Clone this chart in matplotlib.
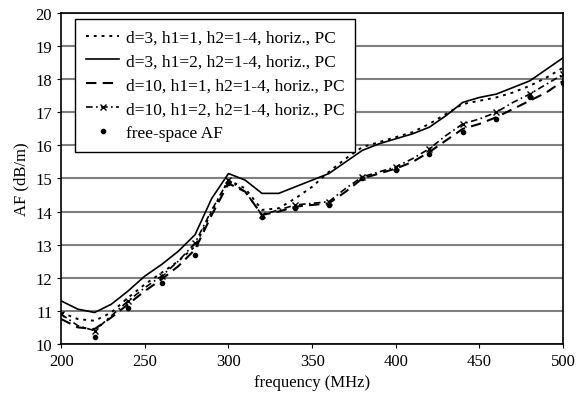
import matplotlib
matplotlib.use('Agg')
from matplotlib import pyplot as plt

plt.rcParams['font.family'] = ['Liberation Serif', 'DejaVu Serif']

# frecuencias de las curvas medidas (MHz)
freq = [200, 210, 220, 230, 240, 250, 260, 270, 280, 290, 300, 310, 320, 330, 340, 350,
        360, 370, 380, 390, 400, 410, 420, 430, 440, 450, 460, 470, 480, 490, 500]

# d=3, h1=1
af_d3_h1 = [10.95, 10.75, 10.7, 10.95, 11.4, 11.8, 12.15, 12.5, 12.95, 14.0, 14.95, 14.7,
            14.05, 14.1, 14.4, 14.75, 15.2, 15.6, 15.95, 16.1, 16.25, 16.4, 16.65, 16.95,
            17.25, 17.35, 17.45, 17.6, 17.8, 18.05, 18.35]
# d=3, h1=2
af_d3_h2 = [11.3, 11.05, 10.95, 11.2, 11.6, 12.05, 12.4, 12.8, 13.3, 14.4, 15.15, 14.95,
            14.55, 14.55, 14.75, 14.95, 15.15, 15.5, 15.85, 16.05, 16.2, 16.35, 16.55, 16.9,
            17.3, 17.45, 17.55, 17.75, 17.95, 18.3, 18.65]
# d=10, h1=1
af_d10_h1 = [10.75, 10.5, 10.45, 10.8, 11.2, 11.6, 11.95, 12.35, 12.85, 13.9, 14.85, 14.6,
             13.9, 14.0, 14.15, 14.2, 14.25, 14.6, 15.0, 15.15, 15.3, 15.5, 15.8, 16.15,
             16.5, 16.65, 16.85, 17.1, 17.35, 17.6, 17.95]
# d=10, h1=2
af_d10_h2 = [10.9, 10.55, 10.4, 10.85, 11.3, 11.7, 12.05, 12.5, 13.05, 14.05, 14.95, 14.6,
             13.9, 14.05, 14.2, 14.25, 14.3, 14.7, 15.05, 15.2, 15.35, 15.6, 15.9, 16.3,
             16.65, 16.8, 17.0, 17.3, 17.55, 17.85, 18.15]

# AF en espacio libre
freq_fs = [220, 240, 260, 280, 300, 320, 340, 360, 380, 400, 420, 440, 460, 480, 500]
af_fs = [10.2, 11.1, 11.85, 12.7, 14.85, 13.85, 14.1, 14.2, 15.0, 15.25, 15.75, 16.4,
         16.8, 17.45, 17.9]

fig = plt.figure(figsize=(5.77, 4.02), dpi=100)
ax = fig.add_axes([0.106, 0.142, 0.87, 0.823])

ax.plot(freq, af_d3_h1, color='black', lw=1.4, ls=(0, (1.5, 2.5)),
        label='d=3, h1=1, h2=1-4, horiz., PC')
ax.plot(freq, af_d3_h2, color='black', lw=1.2, ls='-',
        label='d=3, h1=2, h2=1-4, horiz., PC')
ax.plot(freq, af_d10_h1, color='black', lw=1.5, ls=(0, (5, 3)),
        label='d=10, h1=1, h2=1-4, horiz., PC')
ax.plot(freq, af_d10_h2, color='black', lw=1.2, ls=(0, (4, 2, 1, 2)),
        marker='x', markevery=2, markersize=5,
        label='d=10, h1=2, h2=1-4, horiz., PC')
ax.plot(freq_fs, af_fs, ls='none', marker='o', color='black', markersize=3,
        label='free-space AF')

ax.set_xlim(200, 500)
ax.set_ylim(10, 20)
ax.set_xticks(range(200, 501, 50))
ax.set_yticks(range(10, 21))
ax.yaxis.grid(True, color='#7f7f7f', lw=1.5)
ax.set_axisbelow(True)
ax.tick_params(direction='out', length=3, labelsize=12)
for s in ax.spines.values():
    s.set_linewidth(1.2)

ax.set_xlabel('frequency (MHz)', fontsize=12)
ax.set_ylabel('AF (dB/m)', fontsize=12)

leg = ax.legend(loc='upper left', bbox_to_anchor=(0.028, 0.982), borderaxespad=0,
                fontsize=12.5, fancybox=False, edgecolor='black', framealpha=1,
                handlelength=1.95, handletextpad=0.4, labelspacing=0.45, borderpad=0.6)
leg.get_frame().set_linewidth(1.0)

fig.savefig('out.png', dpi=100)
